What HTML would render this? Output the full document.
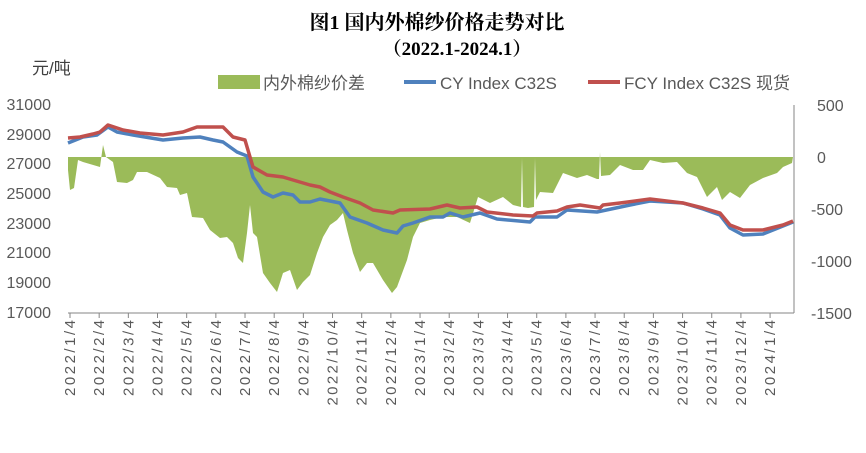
<!DOCTYPE html>
<html><head><meta charset="utf-8"><style>
body{margin:0;background:#fff;}
svg{display:block;font-family:"Liberation Sans","Noto Sans CJK SC",sans-serif;}
</style></head><body>
<svg width="866" height="453" viewBox="0 0 866 453">
<rect width="866" height="453" fill="#fff"/>
<text x="437" y="29" text-anchor="middle" font-size="20" font-weight="bold" font-family="'Liberation Serif','Noto Serif CJK SC',serif">图1  国内外棉纱价格走势对比</text>
<text x="457" y="55" text-anchor="middle" font-size="19" font-weight="bold" font-family="'Liberation Serif','Noto Serif CJK SC',serif">（2022.1-2024.1）</text>
<text x="32" y="74" font-size="17" fill="#404040">元/吨</text>
<rect x="218" y="75" width="42" height="14" fill="#9bbb59"/>
<text x="263" y="89" font-size="17" fill="#595959">内外棉纱价差</text>
<line x1="404" y1="82" x2="436" y2="82" stroke="#4f81bd" stroke-width="4"/>
<text x="440" y="89" font-size="17" fill="#595959">CY Index C32S</text>
<line x1="588" y1="82" x2="620" y2="82" stroke="#c0504d" stroke-width="4"/>
<text x="624" y="89" font-size="17" fill="#595959">FCY Index C32S 现货</text>
<g font-size="16" fill="#595959" text-anchor="end">
<text x="51" y="110">31000</text><text x="51" y="140">29000</text><text x="51" y="169">27000</text><text x="51" y="199">25000</text><text x="51" y="229">23000</text><text x="51" y="258">21000</text><text x="51" y="288">19000</text><text x="51" y="318">17000</text>
</g>
<g font-size="16" fill="#595959">
<text x="817" y="111">500</text><text x="817" y="163">0</text><text x="811" y="215">-500</text><text x="811" y="267">-1000</text><text x="811" y="319">-1500</text>
</g>
<path fill="#9bbb59" d="M68,157 L68,170 70,190 74,188 78,160 83,162 100,167 103,145 106,157 113,162 117,182 127,183 133,180 137,172 147,172 160,178 167,187 177,188 180,195 187,193 192,217 203,218 210,230 220,238 227,237 233,243 238,258 243,263 247,233 250,205 253,233 257,237 263,273 270,283 277,292 283,273 290,270 297,290 303,282 310,275 317,253 323,237 330,225 337,220 343,213 347,230 353,253 360,272 367,263 373,263 383,280 392,293 397,287 407,260 413,237 420,223 430,220 443,217 457,217 470,223 478,197 490,203 503,197 513,205 521,207 522,158 523,207 528,208 534,207 535,158 536,200 540,192 553,193 563,173 577,178 587,175 597,179 599,179 600,152 601,176 610,175 620,165 633,170 643,170 650,160 663,163 677,162 687,173 697,177 707,197 717,187 722,200 730,192 740,198 750,185 763,178 777,173 783,167 792,163 793,157 Z"/>
<polyline fill="none" stroke="#4f81bd" stroke-width="3.5" stroke-linejoin="round" points="68,143 83,137 97,135 108,127 117,132 133,135 163,140 183,138 200,137 213,140 223,142 237,152 247,156 253,177 263,192 273,197 283,193 293,195 300,202 310,202 320,199 340,203 350,217 367,223 383,230 397,233 403,226 413,223 430,217 443,217 450,213 463,217 480,213 497,219 530,222 535,217 557,217 567,210 597,212 630,205 650,201 683,203 703,209 720,215 730,228 743,235 763,234 793,222"/>
<polyline fill="none" stroke="#c0504d" stroke-width="3.5" stroke-linejoin="round" points="68,138 80,137 93,134 100,132 108,125 123,130 140,133 163,135 183,132 197,127 223,127 233,137 245,140 250,157 253,167 267,175 283,177 293,180 310,185 320,187 330,192 343,197 360,203 373,210 393,213 400,210 430,209 447,205 460,208 477,207 487,212 513,215 533,216 537,213 557,211 567,207 580,205 600,208 603,205 620,203 650,199 683,203 703,208 720,213 730,225 743,230 763,230 783,225 793,221"/>
<line x1="794" y1="105" x2="794" y2="313" stroke="#868686" stroke-width="1"/>
<line x1="68" y1="313" x2="794" y2="313" stroke="#868686" stroke-width="1"/>
<g id="ticks" stroke="#868686"></g>
<g font-size="15" fill="#595959" id="xl"></g>
<script>
var t=document.getElementById('ticks'),xl=document.getElementById('xl'),ns='http://www.w3.org/2000/svg';
var labs=[];for(var i=0;i<25;i++){var m=i%12+1,y=2022+Math.floor(i/12);labs.push(y+'/'+m+'/4');}
for(var i=0;i<25;i++){var x=70+29.17*i;
var l=document.createElementNS(ns,'line');l.setAttribute('x1',x);l.setAttribute('x2',x);l.setAttribute('y1',313);l.setAttribute('y2',318);t.appendChild(l);
var tx=document.createElementNS(ns,'text');tx.setAttribute('transform','translate('+(x+5)+',320) rotate(-90)');tx.setAttribute('text-anchor','end');
var len=labs[i].length*9.5;tx.setAttribute('textLength',len);tx.setAttribute('lengthAdjust','spacing');
tx.textContent=labs[i];xl.appendChild(tx);}
</script>
</svg>
</body></html>
